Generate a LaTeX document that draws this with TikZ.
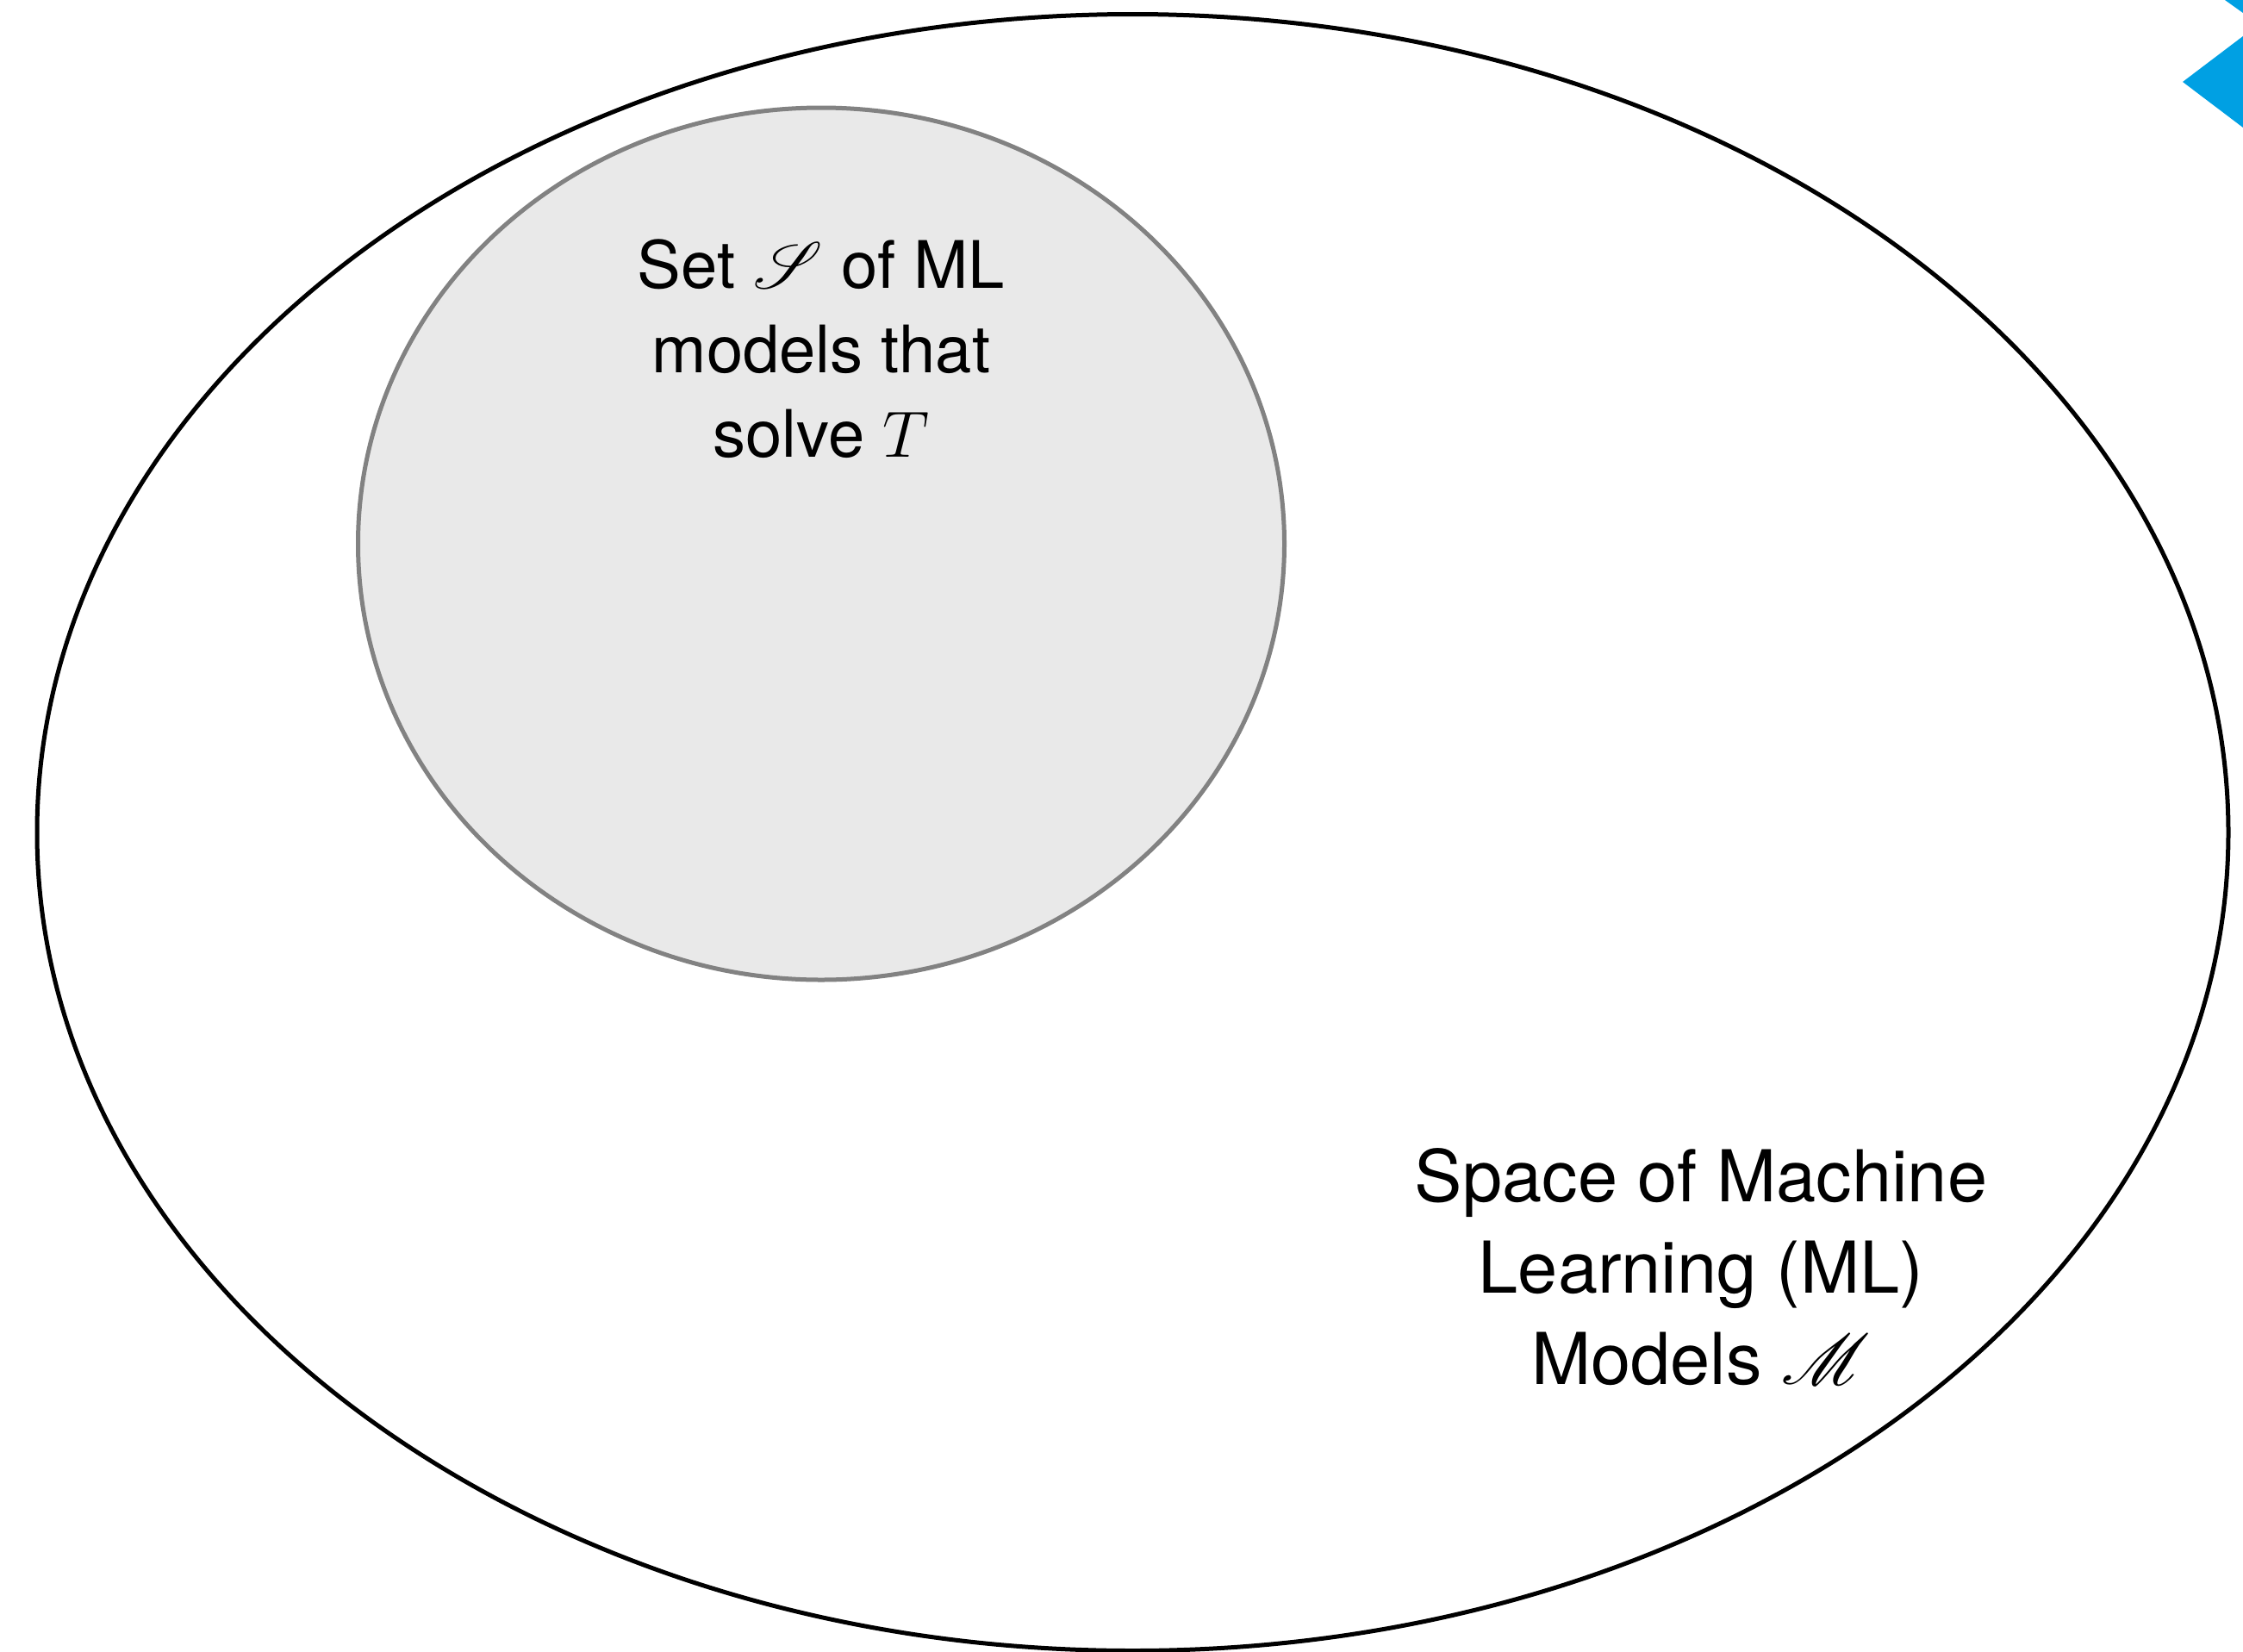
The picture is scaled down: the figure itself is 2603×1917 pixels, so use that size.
\RequirePackage{fix-cm}
\documentclass[tikz,border=0pt]{standalone}
\usepackage{amsmath}
\DeclareFontFamily{U}{rsfs}{\skewchar\font127 }
\DeclareFontShape{U}{rsfs}{m}{n}{<-> rsfs10}{}
\usepackage{mathrsfs}
\usepackage{fontspec}
\setmainfont{TeX Gyre Heros}
\usetikzlibrary{shapes.geometric}
\definecolor{setfill}{RGB}{233,233,233}
\definecolor{setline}{RGB}{130,130,130}
\definecolor{chevblue}{RGB}{0,160,227}
\tikzset{
  spaceell/.style={draw=black, line width=2.5pt, ellipse, inner sep=0pt},
  setell/.style={draw=setline, fill=setfill, line width=2.5pt, ellipse, inner sep=0pt},
  innerlbl/.style={align=center, font=\fontsize{38}{49}\selectfont, inner sep=0pt},
  outerlbl/.style={align=center, font=\fontsize{41.5}{53}\selectfont, inner sep=0pt},
}
\begin{document}
\begin{tikzpicture}[x=0.5pt,y=-0.5pt]
\useasboundingbox (0,0) rectangle (2603,1917);
\fill[white] (0,0) rectangle (2603,1917);
\node[spaceell, minimum width=1271.5pt, minimum height=949.5pt] (space) at (1314.5,966) {};
\node[setell, minimum width=537.5pt, minimum height=506pt] (set) at (953,631) {};
\node[innerlbl] (setlbl) at (953,405) {Set $\mathscr{S}$ of ML\\models that\\solve $T$};
\node[outerlbl] (spacelbl) at (1974,1470) {Space of Machine\\Learning (ML)\\Models $\mathscr{M}$};
\fill[chevblue] (2533,95) -- (2603,42) -- (2603,148) -- cycle;
\fill[chevblue] (2582,0) -- (2603,0) -- (2603,15) -- cycle;
\end{tikzpicture}
\end{document}
